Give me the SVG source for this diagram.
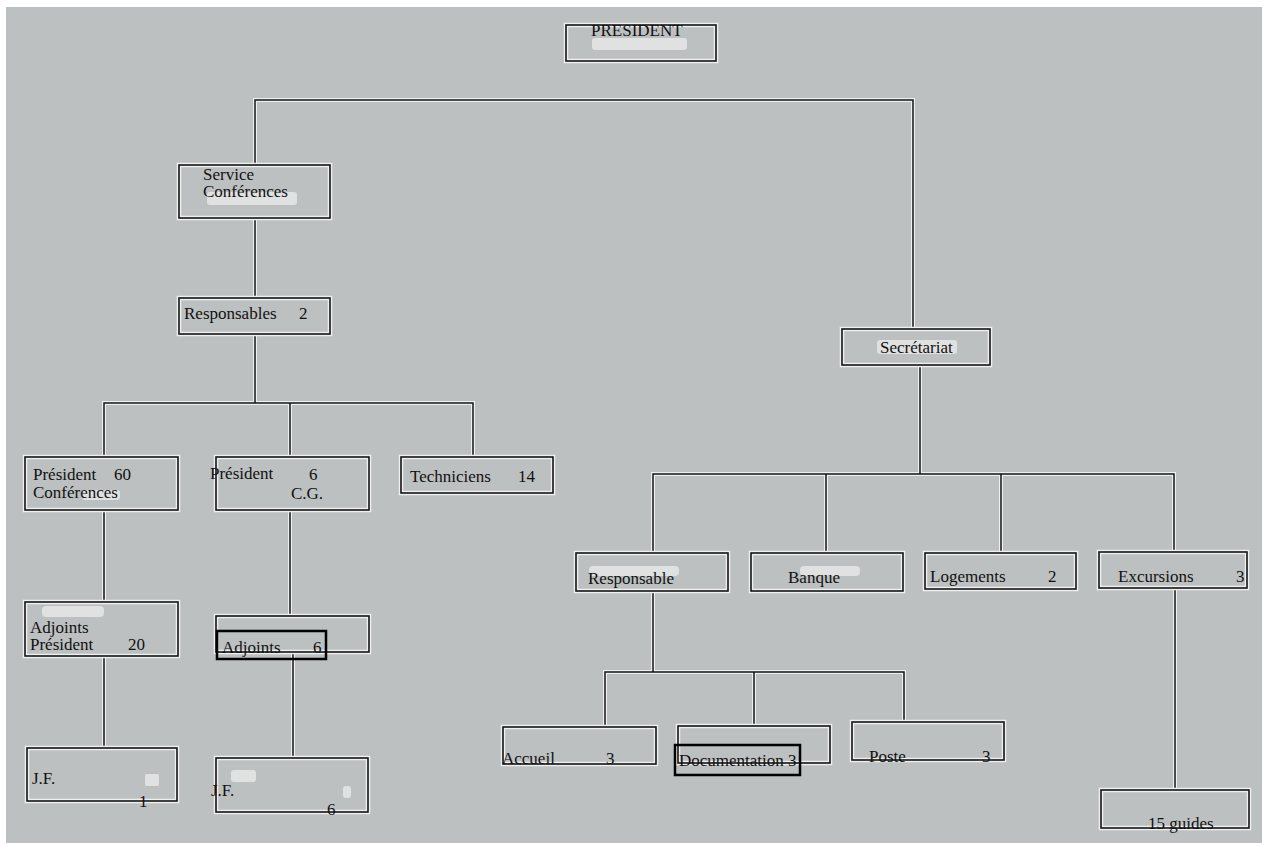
<svg xmlns="http://www.w3.org/2000/svg" width="1268" height="846" viewBox="0 0 1268 846" font-family="'Liberation Serif', 'Times New Roman', serif">
<style>
.bg{fill:#bdc0c0}
.halo{fill:none;stroke:#eef0f0;stroke-width:4.5}
.box{fill:none;stroke:#151515;stroke-width:1.6}
.hl{stroke:#eef0f0;stroke-width:4;fill:none}
.ln{stroke:#151515;stroke-width:1.5;fill:none}
.hi{fill:none;stroke:#000;stroke-width:2.5}
text{font-family:'Liberation Serif','Times New Roman',serif;font-size:17px;fill:#111}
.g{fill:#f6f6f6;opacity:0.6}
</style>
<rect width="1268" height="846" fill="#ffffff"/>
<rect class="bg" x="6" y="7" width="1256" height="836"/>

<g id="ghosts">
<rect class="g" x="592" y="38" width="95" height="12" rx="3"/>
<rect class="g" x="207" y="192" width="90" height="13" rx="3"/>
<rect class="g" x="82" y="490" width="38" height="10" rx="3"/>
<rect class="g" x="42" y="606" width="62" height="11" rx="4"/>
<rect class="g" x="145" y="774" width="14" height="12" rx="2"/>
<rect class="g" x="231" y="770" width="25" height="12" rx="3"/>
<rect class="g" x="343" y="786" width="8" height="12" rx="3"/>
<rect class="g" x="877" y="340" width="80" height="14" rx="3"/>
<rect class="g" x="589" y="566" width="90" height="10" rx="4"/>
<rect class="g" x="800" y="566" width="60" height="10" rx="4"/>
</g>

<g id="connectors">
<path class="hl" d="M255,165V100H913V329 M255,218V298 M255,334V403 M104,457V403H473V455 M290,403V457 M104,510V602 M290,510V616 M104,656V748 M293,652V758 M920,365V474 M653,552V474H1174V552 M826,474V553 M1001,474V553 M653,591V672 M605,727V672H904V722 M754,672V725 M1175,590V790"/>
<path class="ln" d="M255,165V100H913V329 M255,218V298 M255,334V403 M104,457V403H473V455 M290,403V457 M104,510V602 M290,510V616 M104,656V748 M293,652V758 M920,365V474 M653,552V474H1174V552 M826,474V553 M1001,474V553 M653,591V672 M605,727V672H904V722 M754,672V725 M1175,590V790"/>
</g>

<g id="president">
<rect class="halo" x="566" y="25" width="150" height="36"/>
<rect class="box" x="566" y="25" width="150" height="36"/>
<text x="591" y="36">PRESIDENT</text>
</g>

<g id="service">
<rect class="halo" x="179" y="165" width="151" height="53"/>
<rect class="box" x="179" y="165" width="151" height="53"/>
<text x="203" y="180">Service</text>
<text x="203" y="197">Conférences</text>
</g>

<g id="responsables">
<rect class="halo" x="179" y="298" width="151" height="36"/>
<rect class="box" x="179" y="298" width="151" height="36"/>
<text x="184" y="319">Responsables</text>
<text x="299" y="319">2</text>
</g>

<g id="president-conf">
<rect class="halo" x="25" y="457" width="153" height="53"/>
<rect class="box" x="25" y="457" width="153" height="53"/>
<text x="33" y="480">Président</text>
<text x="114" y="480">60</text>
<text x="33" y="498">Conférences</text>
</g>

<g id="president-cg">
<rect class="halo" x="216" y="457" width="153" height="53"/>
<rect class="box" x="216" y="457" width="153" height="53"/>
<text x="210" y="479">Président</text>
<text x="309" y="480">6</text>
<text x="291" y="499">C.G.</text>
</g>

<g id="techniciens">
<rect class="halo" x="401" y="457" width="152" height="36"/>
<rect class="box" x="401" y="457" width="152" height="36"/>
<text x="410" y="482">Techniciens</text>
<text x="518" y="482">14</text>
</g>

<g id="adjoints-president">
<rect class="halo" x="25" y="602" width="153" height="54"/>
<rect class="box" x="25" y="602" width="153" height="54"/>
<text x="30" y="633">Adjoints</text>
<text x="30" y="650">Président</text>
<text x="128" y="650">20</text>
</g>

<g id="adjoints-cg">
<rect class="halo" x="216" y="616" width="153" height="36"/>
<rect class="box" x="216" y="616" width="153" height="36"/>
<rect class="hi" x="217" y="631" width="109" height="28"/>
<text x="222" y="653">Adjoints</text>
<text x="313" y="653">6</text>
</g>

<g id="jf-1">
<rect class="halo" x="27" y="748" width="150" height="53"/>
<rect class="box" x="27" y="748" width="150" height="53"/>
<text x="32" y="784">J.F.</text>
<text x="139" y="807">1</text>
</g>

<g id="jf-6">
<rect class="halo" x="216" y="758" width="152" height="54"/>
<rect class="box" x="216" y="758" width="152" height="54"/>
<text x="211" y="796">J.F.</text>
<text x="327" y="815">6</text>
</g>

<g id="secretariat">
<rect class="halo" x="842" y="329" width="148" height="36"/>
<rect class="box" x="842" y="329" width="148" height="36"/>
<text x="880" y="353">Secrétariat</text>
</g>

<g id="responsable">
<rect class="halo" x="576" y="553" width="152" height="38"/>
<rect class="box" x="576" y="553" width="152" height="38"/>
<text x="588" y="584">Responsable</text>
</g>

<g id="banque">
<rect class="halo" x="751" y="553" width="152" height="38"/>
<rect class="box" x="751" y="553" width="152" height="38"/>
<text x="788" y="583">Banque</text>
</g>

<g id="logements">
<rect class="halo" x="925" y="553" width="151" height="36"/>
<rect class="box" x="925" y="553" width="151" height="36"/>
<text x="930" y="582">Logements</text>
<text x="1048" y="582">2</text>
</g>

<g id="excursions">
<rect class="halo" x="1099" y="552" width="148" height="36"/>
<rect class="box" x="1099" y="552" width="148" height="36"/>
<text x="1118" y="582">Excursions</text>
<text x="1236" y="582">3</text>
</g>

<g id="accueil">
<rect class="halo" x="503" y="727" width="153" height="37"/>
<rect class="box" x="503" y="727" width="153" height="37"/>
<text x="502" y="764">Accueil</text>
<text x="606" y="764">3</text>
</g>

<g id="documentation">
<rect class="halo" x="678" y="726" width="152" height="37"/>
<rect class="box" x="678" y="726" width="152" height="37"/>
<rect class="hi" x="675" y="745" width="125" height="30"/>
<text x="679" y="766">Documentation 3</text>
</g>

<g id="poste">
<rect class="halo" x="852" y="722" width="152" height="38"/>
<rect class="box" x="852" y="722" width="152" height="38"/>
<text x="869" y="762">Poste</text>
<text x="982" y="762">3</text>
</g>

<g id="guides">
<rect class="halo" x="1101" y="790" width="148" height="38"/>
<rect class="box" x="1101" y="790" width="148" height="38"/>
<text x="1148" y="829">15 guides</text>
</g>
</svg>
